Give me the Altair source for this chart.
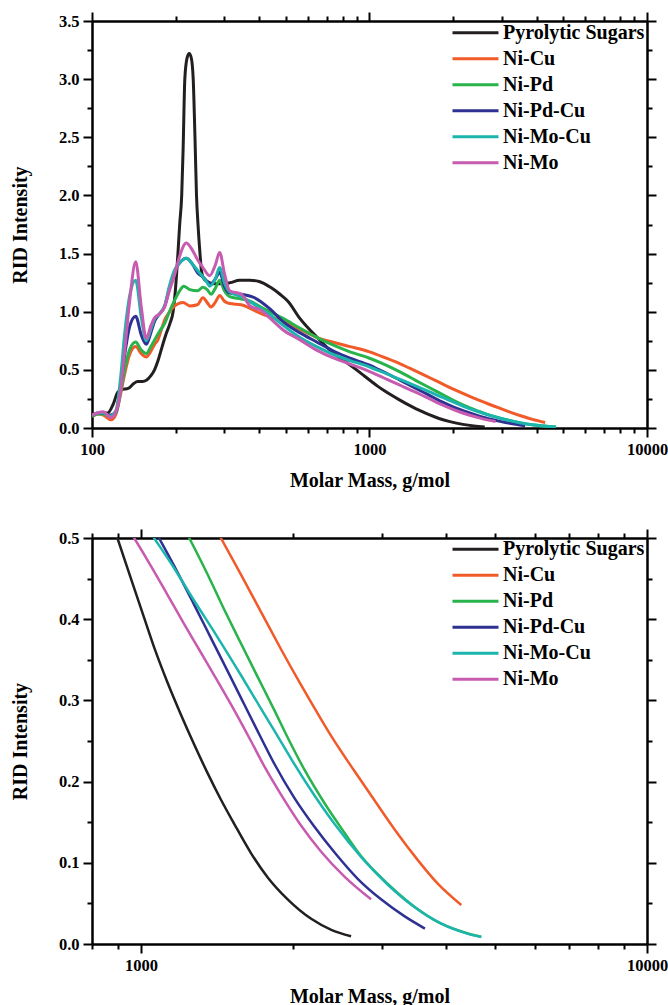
import altair as alt
import pandas as pd

series_names = ["Pyrolytic Sugars", "Ni-Cu", "Ni-Pd", "Ni-Pd-Cu", "Ni-Mo-Cu", "Ni-Mo"]
series_colors = ["#231f20", "#f15a29", "#29b34b", "#2e3192", "#1cb5ad", "#c75bb0"]

pyro_mass = [100, 107, 114, 119, 124, 128, 135, 141, 146, 152, 157, 163, 168, 173, 179, 185, 191, 196,
             200, 204, 207, 210.5, 213, 216, 220, 224, 228, 231.6, 235, 238, 241, 245, 248, 252, 260,
             275, 295, 315, 340, 370, 400, 440, 476, 508, 562, 647, 745, 820, 898, 961, 1014, 1069,
             1128, 1198, 1273, 1350, 1438, 1528, 1649, 1780, 1949, 2169, 2377, 2601]
pyro_rid = [0.10, 0.13, 0.13, 0.20, 0.31, 0.33, 0.34, 0.38, 0.40, 0.40, 0.41, 0.45, 0.50, 0.58, 0.70,
            0.81, 0.90, 1.00, 1.20, 1.50, 1.75, 2.00, 2.40, 3.00, 3.18, 3.22, 3.18, 3.00, 2.50, 2.00,
            1.75, 1.50, 1.35, 1.29, 1.26, 1.24, 1.24, 1.25, 1.27, 1.27, 1.26, 1.21, 1.15, 1.09, 0.94,
            0.78, 0.64, 0.57, 0.50, 0.445, 0.402, 0.360, 0.322, 0.283, 0.246, 0.212, 0.178, 0.148,
            0.112, 0.082, 0.055, 0.031, 0.0175, 0.0095]

nicu_mass = [100, 105, 110, 117, 122, 127, 131, 137, 143.7, 150.5, 156.9, 163, 168.3, 172.9, 178, 182.8,
             188, 198.6, 212.8, 225, 240, 251, 260, 268.5, 278, 288.5, 300, 313.5, 345, 385.5, 420, 490,
             560, 645, 745, 850, 1000, 1150, 1295, 1438, 1576, 1726, 1891, 2071, 2253, 2377, 2641, 2893,
             3171, 3527, 3863, 4295]
nicu_rid = [0.10, 0.12, 0.11, 0.07, 0.12, 0.30, 0.46, 0.64, 0.70, 0.64, 0.61, 0.66, 0.72, 0.76, 0.85, 0.93,
            0.98, 1.05, 1.08, 1.05, 1.06, 1.12, 1.08, 1.04, 1.08, 1.14, 1.09, 1.07, 1.06, 1.01, 0.97, 0.92,
            0.85, 0.78, 0.735, 0.70, 0.655, 0.600, 0.550, 0.50, 0.455, 0.409, 0.363, 0.319, 0.280, 0.256,
            0.213, 0.177, 0.141, 0.103, 0.074, 0.048]

nipd_mass = [100, 105, 110, 116, 122, 127, 131, 137, 143.7, 150.5, 156.9, 163, 168.3, 175, 182.8, 190,
             198.6, 207, 214, 225, 240, 251, 260, 268.5, 278, 288.5, 300, 313.5, 345, 371, 420, 490, 560,
             645, 745, 850, 1000, 1100, 1245, 1354, 1460, 1576, 1700, 1834, 1950, 2102, 2302, 2524, 2724,
             3075, 3470, 3921, 4429, 4700]
nipd_rid = [0.10, 0.12, 0.12, 0.10, 0.13, 0.32, 0.50, 0.68, 0.74, 0.67, 0.64, 0.70, 0.76, 0.83, 0.90, 1.00,
            1.10, 1.18, 1.22, 1.19, 1.18, 1.21, 1.19, 1.15, 1.20, 1.27, 1.18, 1.13, 1.11, 1.09, 1.02, 0.94,
            0.86, 0.78, 0.71, 0.655, 0.60, 0.56, 0.50, 0.455, 0.412, 0.370, 0.329, 0.288, 0.254, 0.215,
            0.174, 0.137, 0.108, 0.074, 0.046, 0.025, 0.013, 0.009]

nipdcu_mass = [100, 105, 110, 116, 122, 127, 131, 137, 143.7, 150.5, 156.9, 163, 168.3, 175, 182.8, 190,
               198.6, 207, 218.7, 230, 241, 251, 260, 268.5, 278, 288.5, 300, 313.5, 345, 385.5, 440, 490,
               560, 645, 745, 850, 1000, 1085, 1180, 1273, 1374, 1483, 1600, 1726, 1834, 2009, 2198, 2411,
               2684, 2981, 3320, 3640]
nipdcu_rid = [0.11, 0.13, 0.13, 0.11, 0.14, 0.38, 0.62, 0.88, 0.96, 0.80, 0.72, 0.82, 0.92, 0.98, 1.05, 1.20,
              1.35, 1.42, 1.46, 1.41, 1.33, 1.30, 1.26, 1.24, 1.28, 1.34, 1.22, 1.16, 1.15, 1.12, 1.02, 0.91,
              0.82, 0.74, 0.66, 0.60, 0.54, 0.50, 0.458, 0.418, 0.377, 0.336, 0.295, 0.254, 0.222, 0.180,
              0.145, 0.113, 0.080, 0.055, 0.034, 0.019]

nimocu_mass = [100, 105, 110, 116, 122, 127, 131, 137, 143.7, 150.5, 156.9, 163, 168.3, 175, 182.8, 190,
               198.6, 207, 218.7, 230, 241, 251, 260, 265.5, 278, 288.5, 300, 313.5, 345, 385.5, 440, 490,
               560, 645, 745, 850, 960, 1061, 1162, 1273, 1416, 1576, 1726, 1862, 1980, 2169, 2411, 2724,
               3075, 3470, 3921, 4429, 4706]
nimocu_rid = [0.11, 0.13, 0.13, 0.10, 0.15, 0.45, 0.80, 1.15, 1.27, 0.95, 0.75, 0.85, 0.94, 0.98, 1.05, 1.22,
              1.36, 1.42, 1.46, 1.41, 1.35, 1.30, 1.25, 1.22, 1.28, 1.38, 1.25, 1.17, 1.13, 1.06, 0.97, 0.88,
              0.78, 0.70, 0.63, 0.58, 0.54, 0.50, 0.463, 0.423, 0.378, 0.331, 0.290, 0.256, 0.228, 0.189,
              0.148, 0.107, 0.073, 0.0455, 0.025, 0.0125, 0.0085]

nimo_mass = [100, 109.6, 117, 122, 127.2, 131, 136.8, 143.7, 150.5, 156.9, 163, 168.3, 175, 182.8, 190,
             198.6, 207, 218.7, 230, 241, 251, 265.5, 278, 288.5, 300, 313.5, 345, 371, 407.5, 440, 490,
             560, 645, 745, 850, 969, 1045, 1128, 1217, 1313, 1416, 1528, 1649, 1752, 1891, 2071, 2268,
             2524, 2849]
nimo_rid = [0.11, 0.14, 0.09, 0.14, 0.35, 0.65, 1.10, 1.43, 1.04, 0.77, 0.88, 0.95, 0.98, 1.04, 1.18,
            1.32, 1.48, 1.59, 1.53, 1.44, 1.38, 1.31, 1.40, 1.51, 1.33, 1.18, 1.15, 1.05, 1.01, 0.94, 0.84,
            0.76, 0.67, 0.60, 0.55, 0.50, 0.466, 0.430, 0.394, 0.359, 0.324, 0.288, 0.250, 0.219, 0.184,
            0.146, 0.114, 0.083, 0.055]

all_mass = [pyro_mass, nicu_mass, nipd_mass, nipdcu_mass, nimocu_mass, nimo_mass]
all_rid = [pyro_rid, nicu_rid, nipd_rid, nipdcu_rid, nimocu_rid, nimo_rid]

rows = []
for k, (name, ms, rs) in enumerate(zip(series_names, all_mass, all_rid)):
    for m, r in zip(ms, rs):
        rows.append({"series": name, "k": k, "mass": m, "rid": r})
df = pd.DataFrame(rows)

FONT = "Liberation Serif"

top_x_vals = [100, 200, 300, 400, 500, 600, 700, 800, 900, 1000, 2000, 3000, 4000, 5000, 6000,
              7000, 8000, 9000, 10000]
top_x_major = [100, 1000, 10000]
top_y_vals = [round(i * 0.25, 2) for i in range(15)]
bot_x_vals = [800, 900, 1000, 2000, 3000, 4000, 5000, 6000, 7000, 8000, 9000, 10000]
bot_x_major = [1000, 10000]
bot_y_vals = [round(i * 0.05, 2) for i in range(11)]


def panel(xdom, ydom, xvals, xmajor, yvals, ymult, h, sw, legend_y, row_pad):
    xtest = " || ".join(f"datum.value == {v}" for v in xmajor)
    ytest = f"abs(datum.value * {ymult} - round(datum.value * {ymult})) < 0.0001"
    xsize = {"condition": {"test": xtest, "value": 9}, "value": 5}
    ysize = {"condition": {"test": ytest, "value": 9}, "value": 5}
    xscale = alt.Scale(type="log", domain=xdom, nice=False)
    yscale = alt.Scale(domain=ydom, nice=False, zero=False)

    lines = alt.Chart(df).mark_line(strokeWidth=sw, clip=True, interpolate="monotone").encode(
        x=alt.X("mass:Q", scale=xscale, title="Molar Mass, g/mol",
                axis=alt.Axis(values=xvals, tickSize=xsize, labelOverlap=False, labelFlush=False,
                              labelExpr=f"({xtest}) ? format(datum.value, 'd') : ''")),
        y=alt.Y("rid:Q", scale=yscale, title="RID Intensity",
                axis=alt.Axis(values=yvals, tickSize=ysize, labelOverlap=False, labelFlush=False,
                              labelExpr=f"({ytest}) ? format(datum.value, '.1f') : ''")),
        color=alt.Color("series:N", scale=alt.Scale(domain=series_names, range=series_colors),
                        legend=alt.Legend(title=None, orient="none", legendX=359, legendY=legend_y,
                                          symbolType="stroke", symbolSize=2116, symbolStrokeWidth=3,
                                          clipHeight=19, rowPadding=row_pad, labelFont=FONT,
                                          labelFontSize=20, labelFontWeight="bold", labelColor="black",
                                          labelOffset=3, padding=0, labelLimit=300)),
        order=alt.Order("k:Q"),
    )
    mirror = alt.Chart(df).mark_line(strokeOpacity=0, clip=True).encode(
        x=alt.X("mass:Q", scale=xscale, title=None,
                axis=alt.Axis(orient="top", values=xvals, tickSize=xsize, labels=False)),
        y=alt.Y("rid:Q", scale=yscale, title=None,
                axis=alt.Axis(orient="right", values=yvals, tickSize=ysize, labels=False)),
        detail="series:N",
    )
    return alt.layer(lines, mirror).resolve_axis(x="independent", y="independent").properties(
        width=555, height=h)


top = panel([100, 10000], [0, 3.5], top_x_vals, top_x_major, top_y_vals, 2, 407, 3, 2.3, 5)
bottom = panel([800, 10000], [0, 0.5], bot_x_vals, bot_x_major, bot_y_vals, 10, 406, 2.5, 1.8, 5)

chart = alt.vconcat(top, bottom, spacing=37).resolve_legend(color="independent").properties(
    padding={"left": 10, "top": 11, "right": 0, "bottom": 0}
).configure_view(strokeWidth=0).configure_axis(
    grid=False, domainColor="black", domainWidth=2.5, tickColor="black", tickWidth=2,
    labelFont=FONT, labelFontSize=16.5, labelFontWeight="bold", labelColor="black", labelPadding=4,
    titleFont=FONT, titleFontSize=20, titleFontWeight="bold", titleColor="black"
).configure_axisX(titlePadding=13).configure_axisY(titlePadding=28)

chart.save("out.html", embed_options={"renderer": "svg", "actions": False})
